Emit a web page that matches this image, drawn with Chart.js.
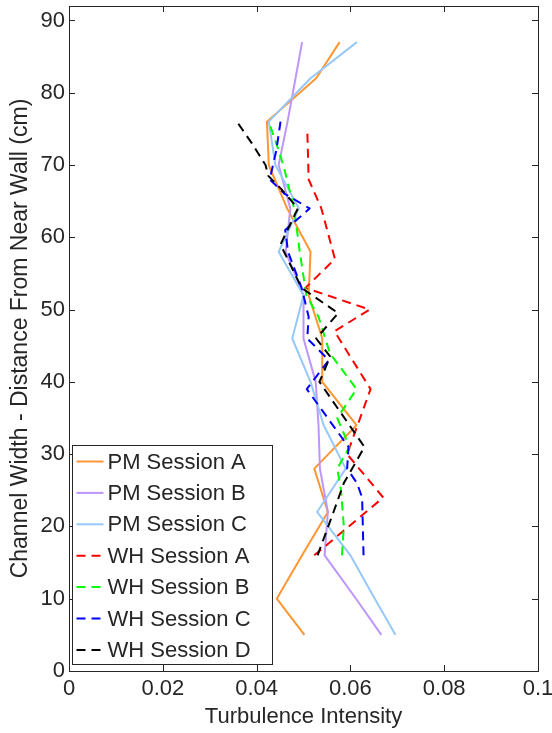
<!DOCTYPE html>
<html><head><meta charset="utf-8">
<script src="https://cdn.jsdelivr.net/npm/chart.js@4/dist/chart.umd.min.js"></script>
<style>html,body{margin:0;padding:0;background:#fff;}canvas{display:block;}</style>
</head><body>
<canvas id="c" width="552" height="733"></canvas>
<script>
// ---- data ----
const xTickValues = [0, 0.02, 0.04, 0.06, 0.08, 0.1];
const xTickLabels = ['0', '0.02', '0.04', '0.06', '0.08', '0.1'];
const yTickValues = [0, 10, 20, 30, 40, 50, 60, 70, 80, 90];
const yTickLabels = ['0', '10', '20', '30', '40', '50', '60', '70', '80', '90'];

const seriesNames = ['PM Session A', 'PM Session B', 'PM Session C', 'WH Session A', 'WH Session B', 'WH Session C', 'WH Session D'];

const pmDepth = [5, 10, 16, 22, 28, 34, 40, 46, 52, 58, 64, 70, 76, 82, 87];
const pmA = [0.0502, 0.0443, 0.0497, 0.0552, 0.0523, 0.0613, 0.0540, 0.0540, 0.0511, 0.0515, 0.0465, 0.0426, 0.0422, 0.0527, 0.0577];
const pmB = [0.0666, 0.0612, 0.0545, 0.0552, 0.0535, 0.0532, 0.0526, 0.0500, 0.0500, 0.0462, 0.0472, 0.0447, 0.0466, 0.0483, 0.0497];
const pmC = [0.0696, 0.0652, 0.0600, 0.0529, 0.0590, 0.0543, 0.0515, 0.0476, 0.0500, 0.0447, 0.0490, 0.0440, 0.0426, 0.0515, 0.0614];

const whADepth = [16, 24, 30, 39, 47, 50, 53, 57, 64, 68, 75];
const whA = [0.0523, 0.0670, 0.0593, 0.0643, 0.0566, 0.0641, 0.0504, 0.0567, 0.0538, 0.0511, 0.0508];

const whBDepth = [16, 20, 25, 28, 31, 35, 39, 44, 49, 52, 58, 64, 70, 72, 76];
const whB = [0.0582, 0.0586, 0.0580, 0.0572, 0.0598, 0.0572, 0.0613, 0.0556, 0.0532, 0.0506, 0.0492, 0.0480, 0.0457, 0.0447, 0.0426];

const whCDepth = [16, 24, 26, 28, 31, 39, 43, 46, 49, 53, 58, 61, 64, 66, 68, 72, 76];
const whC = [0.0628, 0.0625, 0.0614, 0.0593, 0.0596, 0.0507, 0.0554, 0.0508, 0.0511, 0.0496, 0.0467, 0.0461, 0.0513, 0.0460, 0.0428, 0.0442, 0.0451];

const whDDepth = [16, 22, 26, 31, 40, 43.5, 46, 49.5, 53, 59, 64, 66.5, 68.5, 70, 73, 76];
const whD = [0.0530, 0.0564, 0.0586, 0.0630, 0.0534, 0.0557, 0.0527, 0.0574, 0.0496, 0.0451, 0.0488, 0.0455, 0.0425, 0.0419, 0.0390, 0.0358];

// ---- styles ----
const seriesColors = ['rgb(255,150,50)', 'rgb(190,150,250)', 'rgb(150,200,250)', 'rgb(255,0,0)', 'rgb(0,255,0)', 'rgb(0,0,255)', 'rgb(0,0,0)'];
const seriesDashed = [false, false, false, true, true, true, true];
const DASH = [9, 6];
const FONT = "'Liberation Sans', Arial, Helvetica, sans-serif";
const TEXT = '#262626';

const depthSets = [pmDepth, pmDepth, pmDepth, whADepth, whBDepth, whCDepth, whDDepth];
const valueSets = [pmA, pmB, pmC, whA, whB, whC, whD];

const datasets = seriesNames.map((name, k) => ({
  label: name,
  data: depthSets[k].map((d, i) => ({x: valueSets[k][i], y: d})),
  showLine: true,
  pointRadius: 0,
  pointHoverRadius: 0,
  borderColor: seriesColors[k],
  backgroundColor: seriesColors[k],
  borderWidth: 2,
  borderDash: seriesDashed[k] ? DASH : [],
  borderJoinStyle: 'round',
  fill: false,
  tension: 0,
  order: seriesNames.length - k
}));

const framePlugin = {
  id: 'frame',
  afterDatasetsDraw(chart) {
    const {ctx, chartArea: a, scales} = chart;
    ctx.save();
    ctx.strokeStyle = TEXT;
    ctx.lineWidth = 1;
    ctx.setLineDash([]);
    ctx.strokeRect(Math.round(a.left) + 0.5, Math.round(a.top) + 0.5, Math.round(a.right - a.left), Math.round(a.bottom - a.top));
    const tl = 6;
    ctx.beginPath();
    xTickValues.forEach(v => {
      const px = Math.round(scales.x.getPixelForValue(v)) + 0.5;
      ctx.moveTo(px, a.bottom); ctx.lineTo(px, a.bottom - tl);
      ctx.moveTo(px, a.top); ctx.lineTo(px, a.top + tl);
    });
    yTickValues.forEach(v => {
      const py = Math.round(scales.y.getPixelForValue(v)) + 0.5;
      ctx.moveTo(a.left, py); ctx.lineTo(a.left + tl, py);
      ctx.moveTo(a.right, py); ctx.lineTo(a.right - tl, py);
    });
    ctx.stroke();

    // legend
    const left = Math.round(a.left) + 3.5, top = 445.5, width = 200, rowH = 31.4, firstRow = 461.5;
    const height = 219;
    ctx.fillStyle = '#fff';
    ctx.fillRect(left, top, width, height);
    ctx.strokeStyle = TEXT;
    ctx.lineWidth = 1;
    ctx.strokeRect(left, top, width, height);
    ctx.font = '22px ' + FONT;
    ctx.textBaseline = 'middle';
    ctx.textAlign = 'left';
    chart.data.datasets.forEach((ds, i) => {
      const y = firstRow + i * rowH;
      ctx.save();
      ctx.strokeStyle = ds.borderColor;
      ctx.lineWidth = 2;
      ctx.setLineDash(ds.borderDash);
      ctx.beginPath();
      ctx.moveTo(left + 4, y); ctx.lineTo(left + 31, y);
      ctx.stroke();
      ctx.restore();
      ctx.fillStyle = TEXT;
      ctx.fillText(ds.label, left + 35, y + 1);
    });
    ctx.restore();
  }
};

new Chart(document.getElementById('c'), {
  type: 'scatter',
  data: {datasets},
  options: {
    responsive: false,
    animation: false,
    devicePixelRatio: 1,
    layout: {padding: {top: 6, right: 14, left: 0, bottom: 0}},
    plugins: {legend: {display: false}, tooltip: {enabled: false}},
    font: {family: FONT},
    scales: {
      x: {
        type: 'linear', min: 0, max: 0.1,
        grid: {display: false, drawTicks: false},
        border: {display: false},
        afterBuildTicks: s => { s.ticks = xTickValues.map(v => ({value: v})); },
        afterFit: s => { s.height = 62; s.paddingLeft = 0; s.paddingRight = 0; },
        ticks: {
          padding: 5, color: TEXT, maxRotation: 0, autoSkip: false,
          font: {family: FONT, size: 22},
          callback: (v, i) => xTickLabels[i]
        },
        title: {display: true, text: 'Turbulence Intensity', color: TEXT, font: {family: FONT, size: 22}, padding: {top: 0, bottom: 3}}
      },
      y: {
        type: 'linear', min: 0, max: 92,
        grid: {display: false, drawTicks: false},
        border: {display: false},
        afterBuildTicks: s => { s.ticks = yTickValues.map(v => ({value: v})); },
        afterFit: s => { s.width = 69; s.paddingTop = 0; s.paddingBottom = 0; },
        ticks: {
          padding: 4, color: TEXT, autoSkip: false,
          font: {family: FONT, size: 22},
          callback: (v, i) => yTickLabels[i]
        },
        title: {display: true, text: 'Channel Width - Distance From Near Wall (cm)', color: TEXT, font: {family: FONT, size: 23}, padding: {top: 7, bottom: 0}}
      }
    }
  },
  plugins: [framePlugin]
});
</script>
</body></html>
